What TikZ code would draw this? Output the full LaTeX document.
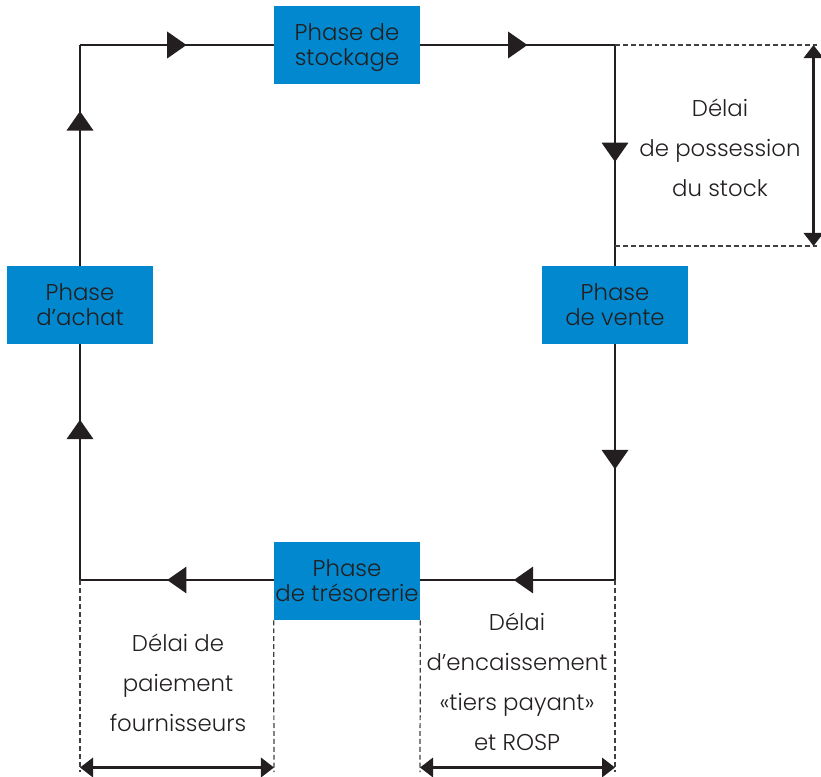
\documentclass[tikz,border=0pt]{standalone}
\usepackage{fontspec}
\setmainfont{Poppins}[UprightFont={* Light}]
\usetikzlibrary{arrows.meta, decorations.markings}
\definecolor{phaseblue}{RGB}{2,136,206}
\definecolor{inkgray}{RGB}{35,31,32}
\tikzset{
    phase/.style={
        fill = phaseblue, text = inkgray,
        minimum width = 2.92cm,
        minimum height = 1.56cm,
        inner sep = 0pt,
        text depth = 0pt,
        align = center,
        font = \fontsize{13}{14.2}\selectfont
    },
    flow/.style = {line width=1.4pt, inkgray},
    midtip/.style = {postaction={decorate},
        decoration={markings, mark=at position #1 with {\arrow{Triangle[length=11pt,width=15pt]}}}},
    guide/.style = {black!75, line width=0.7pt, dash pattern=on 2.8pt off 1.7pt},
    span/.style = {{Triangle[length=7.4pt,width=11pt]}-{Triangle[length=7.4pt,width=11pt]}, line width=1.4pt, inkgray},
    delai/.style = {align=center, text=inkgray, font=\fontsize{13}{22.7}\selectfont}
}

\begin{document}
\begin{tikzpicture}[x=0.2mm, y=-0.2mm]

    % Frame of the picture
    \useasboundingbox (0,0) rectangle (821,776);

    % Phases
    \node[phase] (stockage) at (347,45)  {Phase de\\stockage};
    \node[phase] (achat)    at (80,305)  {Phase\\d’achat};
    \node[phase] (vente)    at (615,305) {Phase\\de vente};
    \node[phase] (treso)    at (347,581) {Phase\\de trésorerie};

    % Corners of the cycle
    \coordinate (ctl) at (80,45);
    \coordinate (ctr) at (615,45);
    \coordinate (cbr) at (615,580);
    \coordinate (cbl) at (80,580);

    % Cycle
    \draw[flow, midtip=0.70] (achat.north) -- (ctl);
    \draw[flow, midtip=0.55] (ctl) -- (stockage.west);
    \draw[flow, midtip=0.55] (stockage.east) -- (ctr);
    \draw[flow, midtip=0.53] (ctr) -- (vente.north);
    \draw[flow, midtip=0.53] (vente.south) -- (cbr);
    \draw[flow, midtip=0.52] (cbr) -- (treso.east |- cbr);
    \draw[flow, midtip=0.55] (treso.west |- cbl) -- (cbl);
    \draw[flow, midtip=0.68] (cbl) -- (achat.south);

    % Délai de possession du stock
    \coordinate (stk1) at (817,45);
    \coordinate (stk2) at (817,246);
    \coordinate (stk0) at (615,246);
    \draw[guide] (ctr) -- (stk1);
    \draw[guide] (stk0) -- (stk2);
    \draw[span] ([xshift=-0.07cm]stk1) -- ([xshift=-0.07cm]stk2);
    \node[delai] (possession) at (720,148) {Délai\\de possession\\du stock};

    % Délai de paiement fournisseurs
    \coordinate (fou1) at (80,772);
    \coordinate (fou2) at (274,772);
    \draw[guide] (cbl) -- (fou1);
    \draw[guide] (treso.south west) -- (fou2);
    \draw[span] ([yshift=0.09cm]fou1) -- ([yshift=0.09cm]fou2);
    \node[delai] (paiement) at (178,683) {Délai de\\paiement\\fournisseurs};

    % Délai d'encaissement
    \coordinate (enc1) at (420,772);
    \coordinate (enc2) at (615,772);
    \draw[guide] (treso.south east) -- (enc1);
    \draw[guide] (cbr) -- (enc2);
    \draw[span] ([yshift=0.09cm]enc1) -- ([yshift=0.09cm]enc2);
    \node[delai] (encaissement) at (517,682) {Délai\\d’encaissement\\«tiers payant»\\et ROSP};

\end{tikzpicture}
\end{document}
